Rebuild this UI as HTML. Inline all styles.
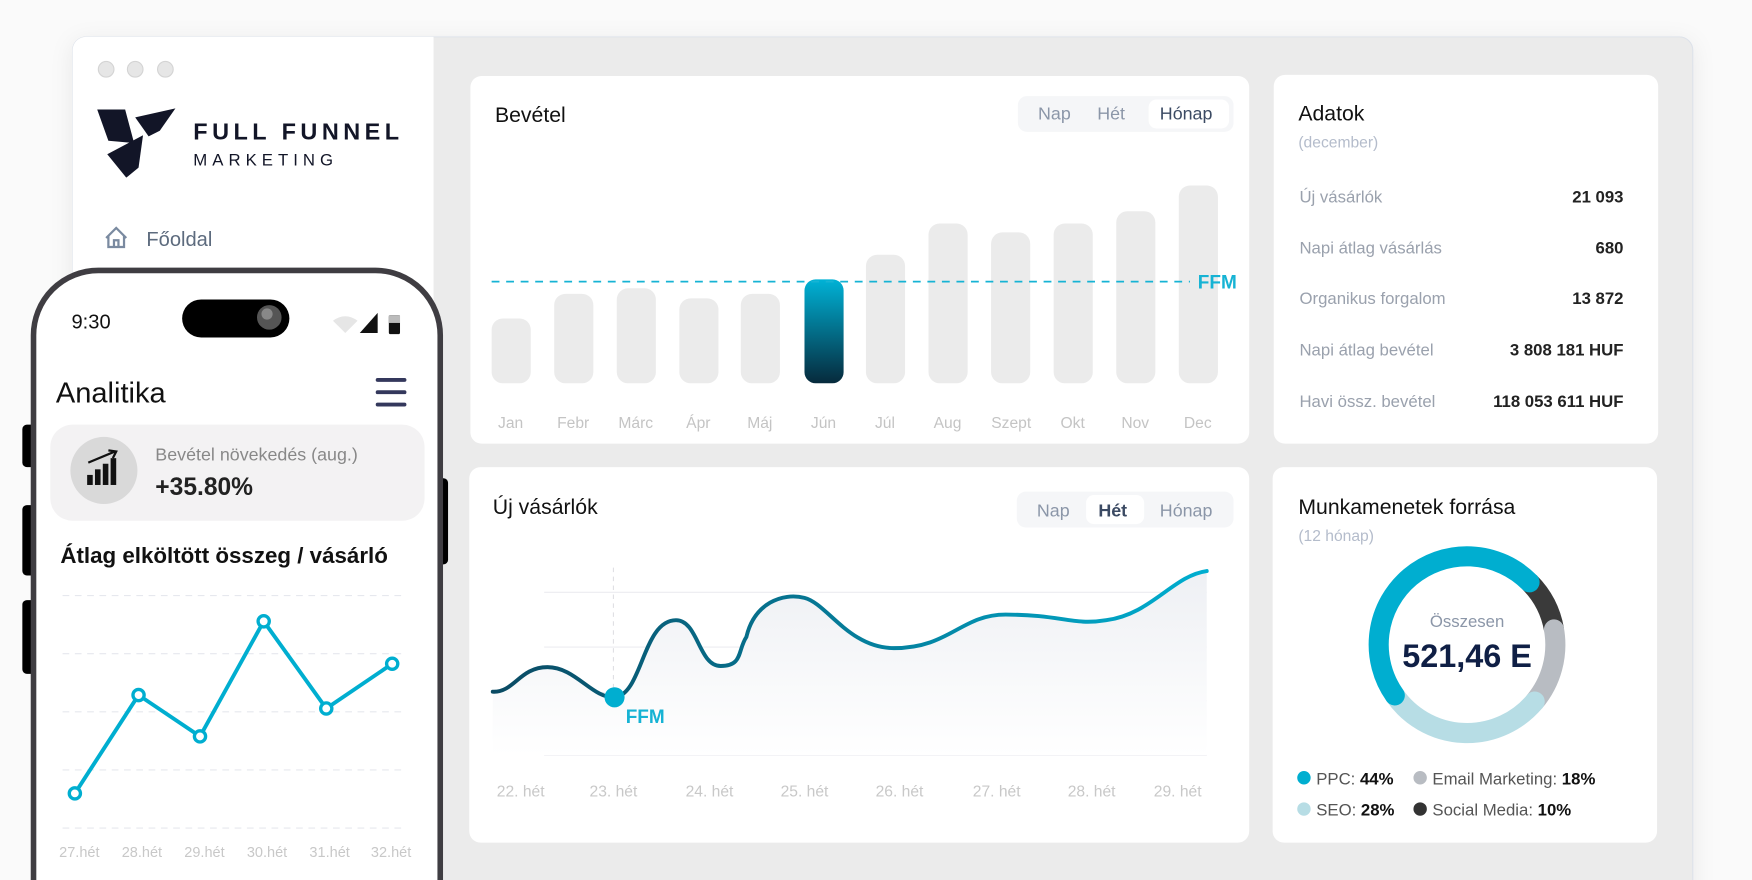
<!DOCTYPE html>
<html><head><meta charset="utf-8"><style>
html,body{margin:0;padding:0;background:#fafafa;width:1752px;height:880px;overflow:hidden}
svg{display:block}
text{font-family:"Liberation Sans","DejaVu Sans",sans-serif}
</style></head><body>
<svg width="1752" height="880" viewBox="0 0 1568 787.5" preserveAspectRatio="none" xmlns="http://www.w3.org/2000/svg">
<defs>
<linearGradient id="jun" x1="0" y1="0" x2="0" y2="1"><stop offset="0" stop-color="#00b2d6"/><stop offset="1" stop-color="#062a3c"/></linearGradient>
<linearGradient id="area" x1="0" y1="0" x2="0" y2="1"><stop offset="0" stop-color="#eef0f4"/><stop offset="1" stop-color="#ffffff"/></linearGradient>
<linearGradient id="ln" x1="0" y1="0" x2="1" y2="0"><stop offset="0" stop-color="#0a4a63"/><stop offset="1" stop-color="#00aed0"/></linearGradient>
<filter id="sh" x="-10%" y="-10%" width="120%" height="120%"><feDropShadow dx="0" dy="4" stdDeviation="10" flood-color="#000" flood-opacity="0.07"/></filter>
</defs>
<rect width="1568" height="788" fill="#fafafa"/>
<rect x="65" y="33" width="1450" height="780" rx="12" fill="#ebebeb" stroke="#dde2ea" filter="url(#sh)"/>
<path d="M77 33 H388 V787 H65 V45 A12 12 0 0 1 77 33Z" fill="#fff"/>
<circle cx="95" cy="62" r="7" fill="#e6e6e6" stroke="#d4d4d4"/>
<circle cx="121" cy="62" r="7" fill="#e6e6e6" stroke="#d4d4d4"/>
<circle cx="148" cy="62" r="7" fill="#e6e6e6" stroke="#d4d4d4"/>
<path d="M87 98 L112 98 L120 128 L97 126Z" fill="#121527"/>
<path d="M96 138 L128 121 L124 150 L113 159Z" fill="#121527"/>
<path d="M121 105 L157 97 L143 117 L133 122Z" fill="#121527"/>
<text x="173" y="125" font-size="21" font-weight="bold" letter-spacing="4" fill="#121527" font-family="Liberation Mono">FULL FUNNEL</text>
<text x="173" y="148" font-size="15" letter-spacing="4.5" fill="#121527" font-family="Liberation Mono">MARKETING</text>
<path d="M95 213 L104 204 L113 213 M97 211 V221 H111 V211 M102 221 V215 H106 V221" fill="none" stroke="#7a8aa0" stroke-width="2"/>
<text x="131" y="220" font-size="18" fill="#5d6b7e">Főoldal</text>

<rect x="421" y="68" width="697" height="329" rx="10" fill="#fff"/>
<text x="443" y="109" font-size="19" fill="#111">Bevétel</text>
<rect x="911" y="86" width="193" height="32" rx="8" fill="#f5f6f8"/>
<rect x="1028" y="89" width="72" height="26" rx="7" fill="#fff"/>
<text x="929" y="107" font-size="16" fill="#8b96a8">Nap</text>
<text x="982" y="107" font-size="16" fill="#8b96a8">Hét</text>
<text x="1038" y="107" font-size="16" fill="#3b4a63">Hónap</text>
<g fill="#ebebeb">
<rect x="440" y="285" width="35" height="58" rx="10"/>
<rect x="496" y="263" width="35" height="80" rx="10"/>
<rect x="552" y="258" width="35" height="85" rx="10"/>
<rect x="608" y="267" width="35" height="76" rx="10"/>
<rect x="663" y="263" width="35" height="80" rx="10"/>
<rect x="775" y="228" width="35" height="115" rx="10"/>
<rect x="831" y="200" width="35" height="143" rx="10"/>
<rect x="887" y="208" width="35" height="135" rx="10"/>
<rect x="943" y="200" width="35" height="143" rx="10"/>
<rect x="999" y="189" width="35" height="154" rx="10"/>
<rect x="1055" y="166" width="35" height="177" rx="10"/>
</g>
<rect x="720" y="250" width="35" height="93" rx="10" fill="url(#jun)"/>
<line x1="440" y1="252" x2="1065" y2="252" stroke="#16b3d4" stroke-width="1.5" stroke-dasharray="7,6"/>
<text x="1072" y="258" font-size="17" font-weight="bold" fill="#16b3d4">FFM</text>
<g font-size="14" fill="#c4c4c4" text-anchor="middle">
<text x="457" y="383">Jan</text><text x="513" y="383">Febr</text><text x="569" y="383">Márc</text><text x="625" y="383">Ápr</text><text x="680" y="383">Máj</text><text x="737" y="383">Jún</text><text x="792" y="383">Júl</text><text x="848" y="383">Aug</text><text x="905" y="383">Szept</text><text x="960" y="383">Okt</text><text x="1016" y="383">Nov</text><text x="1072" y="383">Dec</text>
</g>

<rect x="1140" y="67" width="344" height="330" rx="10" fill="#fff"/>
<text x="1162" y="108" font-size="19" fill="#111">Adatok</text>
<text x="1162" y="132" font-size="14" fill="#b4bccb">(december)</text>
<g font-size="15" fill="#9aa1ad"><text x="1163" y="181">Új vásárlók</text><text x="1163" y="227">Napi átlag vásárlás</text><text x="1163" y="272">Organikus forgalom</text><text x="1163" y="318">Napi átlag bevétel</text><text x="1163" y="364">Havi össz. bevétel</text></g>
<g font-size="15" font-weight="bold" fill="#222" text-anchor="end"><text x="1453" y="181">21 093</text><text x="1453" y="227">680</text><text x="1453" y="272">13 872</text><text x="1453" y="318">3 808 181 HUF</text><text x="1453" y="364">118 053 611 HUF</text></g>

<rect x="420" y="418" width="698" height="336" rx="10" fill="#fff"/>
<text x="441" y="460" font-size="19" fill="#111">Új vásárlók</text>
<rect x="910" y="440" width="194" height="32" rx="8" fill="#f5f6f8"/>
<rect x="972" y="443" width="52" height="26" rx="7" fill="#fff"/>
<text x="928" y="462" font-size="16" fill="#8b96a8">Nap</text>
<text x="983" y="462" font-size="16" fill="#3b4a63" font-weight="bold">Hét</text>
<text x="1038" y="462" font-size="16" fill="#8b96a8">Hónap</text>
<g stroke="#ececf0" stroke-width="1"><line x1="487" y1="530" x2="1080" y2="530"/><line x1="487" y1="579" x2="1080" y2="579"/><line x1="487" y1="627" x2="1080" y2="627"/><line x1="487" y1="676" x2="1080" y2="676"/></g>
<line x1="441" y1="620" x2="1080" y2="620" stroke="#e0e0e4" stroke-dasharray="4,4"/>
<line x1="549" y1="508" x2="549" y2="676" stroke="#e0e0e4" stroke-dasharray="4,4"/>
<path d="M441 619 C460 620 465 597 490 597 C515 597 530 625 550 624 C575 622 575 555 605 555 C625 555 625 596 645 596 C665 596 660 582 668 570 C675 540 700 530 720 535 C740 540 760 580 800 580 C850 580 860 550 900 550 C950 550 960 560 990 555 C1030 550 1050 515 1080 511 L1080 676 L441 676Z" fill="url(#area)"/>
<path d="M441 619 C460 620 465 597 490 597 C515 597 530 625 550 624 C575 622 575 555 605 555 C625 555 625 596 645 596 C665 596 660 582 668 570 C675 540 700 530 720 535 C740 540 760 580 800 580 C850 580 860 550 900 550 C950 550 960 560 990 555 C1030 550 1050 515 1080 511" fill="none" stroke="url(#ln)" stroke-width="3.5" stroke-linecap="round"/>
<circle cx="550" cy="624" r="9" fill="#00aed0"/>
<text x="560" y="647" font-size="17" font-weight="bold" fill="#16b3d4">FFM</text>
<g font-size="14" fill="#c8c8c8" text-anchor="middle"><text x="466" y="713">22. hét</text><text x="549" y="713">23. hét</text><text x="635" y="713">24. hét</text><text x="720" y="713">25. hét</text><text x="805" y="713">26. hét</text><text x="892" y="713">27. hét</text><text x="977" y="713">28. hét</text><text x="1054" y="713">29. hét</text></g>

<rect x="1139" y="418" width="344" height="336" rx="10" fill="#fff"/>
<text x="1162" y="460" font-size="19" fill="#111">Munkamenetek forrása</text>
<text x="1162" y="484" font-size="14" fill="#b4bccb">(12 hónap)</text>
<g fill="none" stroke-width="18">
<path d="M1368.9 521.1 A79 79 0 0 1 1390.8 563.3" stroke="#3a3a3a"/>
<path d="M1390.8 563.3 A79 79 0 0 1 1373.5 627.8" stroke="#b8bcc2" stroke-linecap="round"/>
<path d="M1373.5 627.8 A79 79 0 0 1 1248.3 622.3" stroke="#b7dde5" stroke-linecap="round"/>
<path d="M1248.3 622.3 A79 79 0 0 1 1368.9 521.1" stroke="#00aed0" stroke-linecap="round"/>
</g>
<text x="1313" y="561" font-size="15" fill="#8b96a8" text-anchor="middle">Összesen</text>
<text x="1313" y="597" font-size="29" font-weight="bold" fill="#0f1f45" text-anchor="middle">521,46 E</text>
<g font-size="15" fill="#555">
<circle cx="1167" cy="696" r="6" fill="#00aed0"/><text x="1178" y="702">PPC: <tspan font-weight="bold" fill="#111">44%</tspan></text>
<circle cx="1271" cy="696" r="6" fill="#b8bcc2"/><text x="1282" y="702">Email Marketing: <tspan font-weight="bold" fill="#111">18%</tspan></text>
<circle cx="1167" cy="724" r="6" fill="#b7dde5"/><text x="1178" y="730">SEO: <tspan font-weight="bold" fill="#111">28%</tspan></text>
<circle cx="1271" cy="724" r="6" fill="#333"/><text x="1282" y="730">Social Media: <tspan font-weight="bold" fill="#111">10%</tspan></text>
</g>

<g>
<rect x="20" y="380" width="14" height="38" rx="4" fill="#000"/>
<rect x="20" y="452" width="14" height="63" rx="4" fill="#000"/>
<rect x="20" y="537" width="14" height="66" rx="4" fill="#000"/>
<rect x="390" y="428" width="11" height="77" rx="4" fill="#000"/>
<path d="M30 790 V300 A58 58 0 0 1 88 242 H336 A58 58 0 0 1 394 300 V790" fill="#fff" stroke="#3f3d42" stroke-width="5"/>
<text x="64" y="294" font-size="18" fill="#111">9:30</text>
<rect x="163" y="268" width="96" height="34" rx="17" fill="#000"/>
<circle cx="241" cy="284" r="11" fill="#555"/><circle cx="239" cy="281" r="5" fill="#888"/>
<path d="M298 287 Q309 279 320 287 L309 298Z" fill="#e6e6e6"/>
<path d="M322 298 L338 280 V298Z" fill="#111"/>
<rect x="348" y="282" width="10" height="17" rx="1.5" fill="#111"/><rect x="348" y="282" width="10" height="7" fill="#bbb"/>
<text x="50" y="360" font-size="26" fill="#111">Analitika</text>
<g stroke="#34385c" stroke-width="3.5" stroke-linecap="round"><line x1="338" y1="340" x2="362" y2="340"/><line x1="338" y1="351" x2="362" y2="351"/><line x1="338" y1="362" x2="362" y2="362"/></g>
<rect x="45" y="380" width="335" height="86" rx="20" fill="#f3f2f3"/>
<circle cx="93" cy="421" r="30" fill="#d9d9d9"/>
<g fill="#111"><rect x="78" y="425" width="5" height="9"/><rect x="85" y="420" width="5" height="14"/><rect x="92" y="415" width="5" height="19"/><rect x="99" y="410" width="5" height="24"/></g>
<path d="M79 414 L103 404 M97 403 L104 404 L101 410" stroke="#111" stroke-width="2" fill="none"/>
<text x="139" y="412" font-size="16" fill="#888">Bevétel növekedés (aug.)</text>
<text x="139" y="443" font-size="22" font-weight="bold" fill="#222">+35.80%</text>
<text x="54" y="504" font-size="20" font-weight="bold" fill="#111">Átlag elköltött összeg / vásárló</text>
<g stroke="#e6e8ee" stroke-dasharray="6,5"><line x1="56" y1="533" x2="364" y2="533"/><line x1="56" y1="585" x2="364" y2="585"/><line x1="56" y1="637" x2="364" y2="637"/><line x1="56" y1="689" x2="364" y2="689"/><line x1="56" y1="741" x2="364" y2="741"/></g>
<polyline points="67,710 124,622 179,659 236,556 292,634 351,594" fill="none" stroke="#00aed0" stroke-width="3.5" stroke-linejoin="round"/>
<g fill="#fff" stroke="#00aed0" stroke-width="3"><circle cx="67" cy="710" r="5"/><circle cx="124" cy="622" r="5"/><circle cx="179" cy="659" r="5"/><circle cx="236" cy="556" r="5"/><circle cx="292" cy="634" r="5"/><circle cx="351" cy="594" r="5"/></g>
<g font-size="13" fill="#c8c8c8" text-anchor="middle"><text x="71" y="767">27.hét</text><text x="127" y="767">28.hét</text><text x="183" y="767">29.hét</text><text x="239" y="767">30.hét</text><text x="295" y="767">31.hét</text><text x="350" y="767">32.hét</text></g>
</g>
</svg>
</body></html>
